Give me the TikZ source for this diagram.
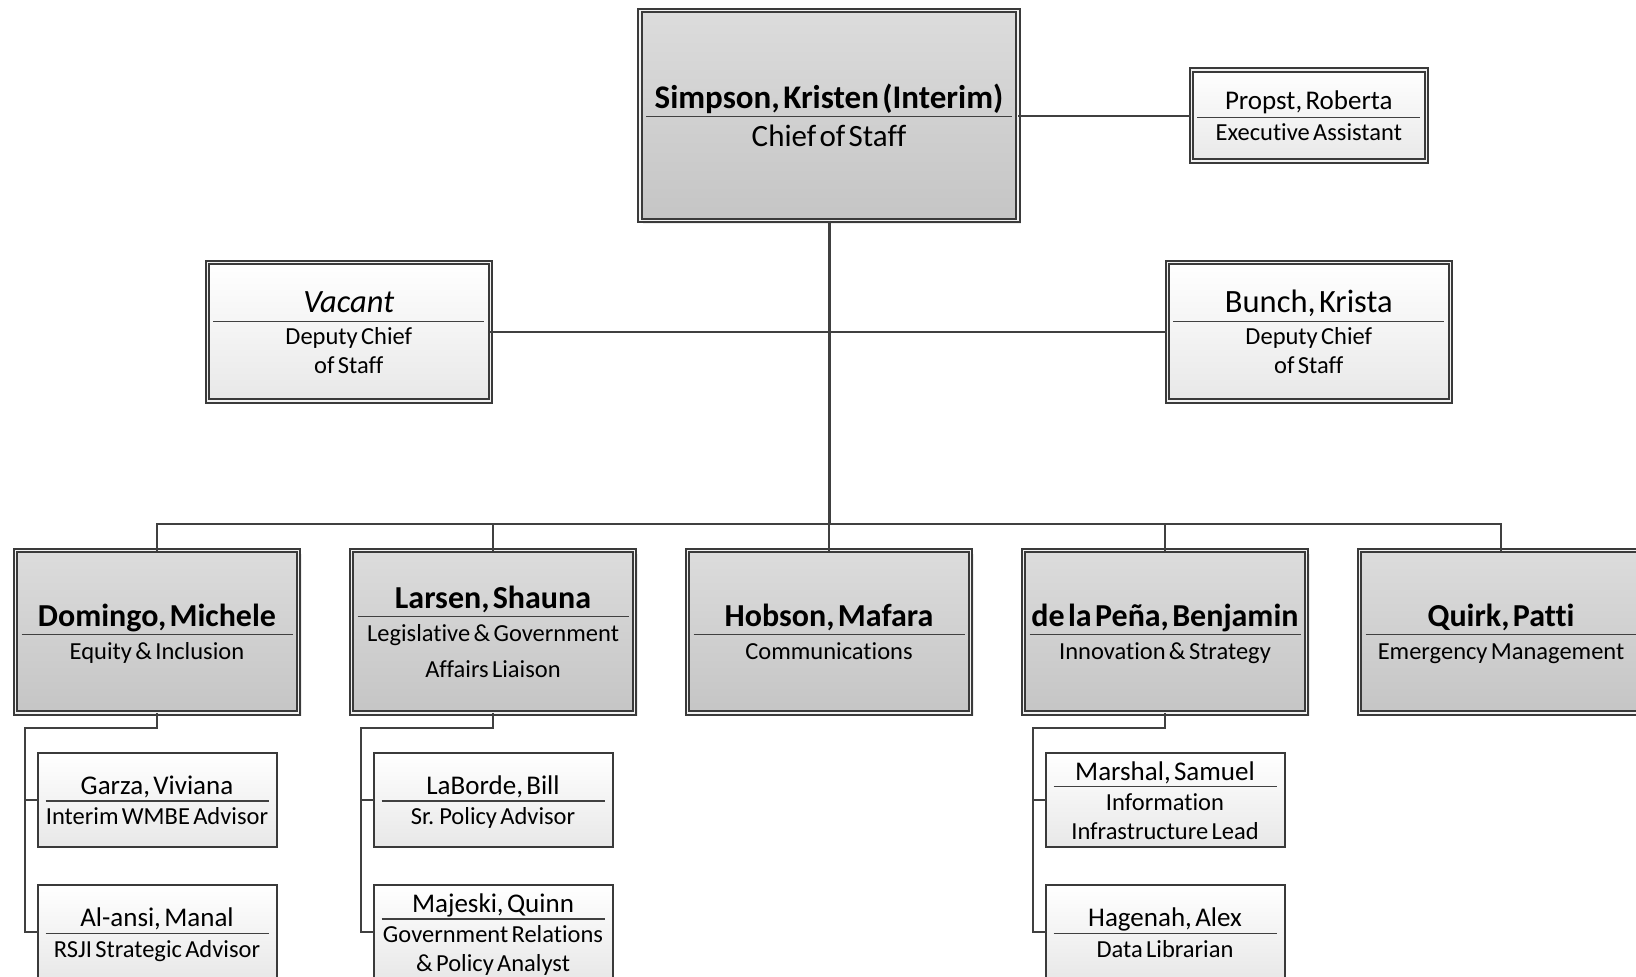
\documentclass[tikz,border=0pt]{standalone}
\usepackage{fontspec}
\setmainfont{Carlito}[Ligatures=NoCommon]
\usetikzlibrary{positioning,shadows}

\definecolor{linegray}{HTML}{404040}
\definecolor{framegray}{HTML}{3A3A3A}
\definecolor{bosstop}{HTML}{DCDCDC}
\definecolor{bossbottom}{HTML}{C5C5C5}
\definecolor{stafftop}{HTML}{FFFFFF}
\definecolor{staffbottom}{HTML}{E8E8E8}

% name line, divider, title lines
\newcommand{\cardsetup}[5]{\def\cardnamefont{#1}\def\cardtitlefont{#2}%
  \def\cardnameht{#3}\def\cardgap{#4}\def\cardtitleht{#5}}
\newcommand{\card}[2]{%
  {\cardnamefont\rule{0pt}{\cardnameht}#1\par}\kern-\prevdepth\kern\cardgap
  {\color{linegray}\hrule height 1.3pt}%
  {\cardtitlefont\rule{0pt}{\cardtitleht}#2\par}\kern-\prevdepth}

\begin{document}
\begin{tikzpicture}[x=1pt, y=-1pt,
                    node distance=53pt,
                    line join=miter]
    \tikzstyle{card}=[rectangle, inner sep=0pt, outer sep=0pt, align=center, text=black]
    \tikzstyle{framed}=[card, draw=framegray, line width=2pt, double=gray!10, double distance=1.6pt]
    \tikzstyle{boss}=[framed, top color=bosstop, bottom color=bossbottom,
                      drop shadow={shadow xshift=3pt, shadow yshift=-3pt, opacity=0.15}]
    \tikzstyle{topbox}=[boss, minimum width=378pt, minimum height=210pt, text width=366pt,
                      execute at begin node={\cardsetup{\fontsize{33}{40}\bfseries}{\fontsize{31}{36}\selectfont}{22pt}{7pt}{30pt}}]
    \tikzstyle{mainbox}=[boss, minimum width=283pt, minimum height=162.3pt, text width=271pt,
                      execute at begin node={\cardsetup{\fontsize{32}{38}\bfseries}{\fontsize{24.5}{29}\selectfont}{22.5pt}{7.6pt}{24.5pt}}]
    \tikzstyle{deputybox}=[framed, top color=stafftop, bottom color=staffbottom,
                      minimum width=283pt, minimum height=138.7pt, text width=271pt,
                      execute at begin node={\cardsetup{\fontsize{32.5}{38}\selectfont}{\fontsize{24.5}{28.5}\selectfont}{22.8pt}{7.8pt}{23pt}}]
    \tikzstyle{assistbox}=[framed, top color=stafftop, bottom color=staffbottom,
                      minimum width=235pt, minimum height=90.7pt, text width=223pt,
                      execute at begin node={\cardsetup{\fontsize{27}{32}\selectfont}{\fontsize{24.5}{29}\selectfont}{19.5pt}{7pt}{22.5pt}}]
    \tikzstyle{staffbox}=[card, draw=framegray, line width=2pt, top color=stafftop, bottom color=staffbottom,
                      minimum width=239pt, minimum height=94pt, text width=223pt,
                      execute at begin node={\cardsetup{\fontsize{27}{32}\selectfont}{\fontsize{24.5}{29}\selectfont}{20pt}{5.8pt}{23pt}}]
    \tikzstyle{link}=[draw=linegray, line width=2pt]
    \tikzstyle{trunk}=[link, line width=3pt]

    \clip (0,0) rectangle (1636,977);

    \node[topbox] (simpson) at (829,115.5) {\card{Simpson, Kristen (Interim)}{Chief of Staff}};
    \node[assistbox] (propst) at (1308.8,115.5) {\card{Propst, Roberta}{Executive Assistant}};
    \node[deputybox] (vacant) at (348.8,331.7) {\card{\itshape Vacant}{Deputy Chief\\of Staff}};
    \node[deputybox] (bunch) at (1308.8,331.7) {\card{Bunch, Krista}{Deputy Chief\\of Staff}};

    \node[mainbox] (domingo) at (157,631.8) {\card{Domingo, Michele}{Equity \& Inclusion}};
    \node[mainbox, right=of domingo] (larsen) {\card{Larsen, Shauna}{Legislative \& Government\\[7pt]Affairs Liaison}};
    \node[mainbox, right=of larsen] (hobson) {\card{Hobson, Mafara}{Communications}};
    \node[mainbox, right=of hobson] (delapena) {\card{de la Peña, Benjamin}{Innovation \& Strategy}};
    \node[mainbox, right=of delapena] (quirk) {\card{Quirk, Patti}{Emergency Management}};

    \node[staffbox, below=39.7pt of domingo] (garza) {\card{Garza, Viviana}{Interim WMBE Advisor}};
    \node[staffbox, below=38.3pt of garza] (alansi) {\card{Al-ansi, Manal}{RSJI Strategic Advisor}};
    \node[staffbox, below=39.7pt of larsen] (laborde) {\card{LaBorde, Bill}{Sr. Policy Advisor}};
    \node[staffbox, below=38.3pt of laborde] (majeski) {\card{Majeski, Quinn}{Government Relations\\\& Policy Analyst}};
    \node[staffbox, below=39.7pt of delapena] (marshal) {\card{Marshal, Samuel}{Information\\Infrastructure Lead}};
    \node[staffbox, below=38.3pt of marshal] (hagenah) {\card{Hagenah, Alex}{Data Librarian}};

    % connectors
    \draw[link] (simpson) -- (propst);
    \draw[link] (vacant) -- (bunch);
    \coordinate (bus) at (829,523.5);
    \draw[trunk] (simpson.south) -- (bus);
    \draw[link] (domingo.north) |- (bus) -| (quirk.north);
    \foreach \n in {larsen,hobson,delapena}
        \draw[link] (\n.north) -- (\n.north |- bus);
    \foreach \boss/\first/\second in {domingo/garza/alansi, larsen/laborde/majeski, delapena/marshal/hagenah}{
        \draw[link] (\boss.south) -- ++(0,15.3) -| ([xshift=-13pt]\second.west) -- (\second.west);
        \draw[link] ([xshift=-13pt]\first.west) -- (\first.west);
    }
\end{tikzpicture}
\end{document}
